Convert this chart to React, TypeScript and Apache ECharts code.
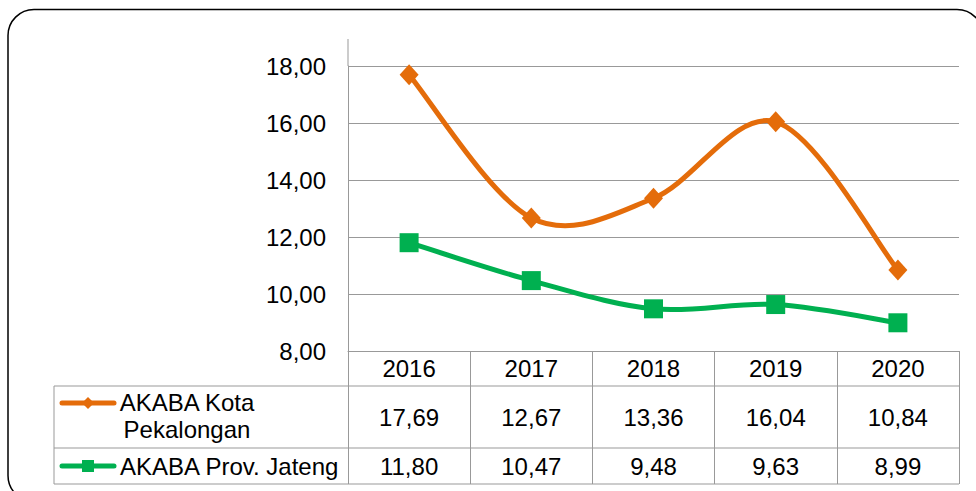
import React, { useEffect, useRef } from "react";
import * as echarts from "echarts";

const years = ["2016", "2017", "2018", "2019", "2020"];
const kotaName = "AKABA Kota Pekalongan";
const jatengName = "AKABA Prov. Jateng";
const kotaValues = [17.69, 12.67, 13.36, 16.04, 10.84];
const jatengValues = [11.8, 10.47, 9.48, 9.63, 8.99];
const yMin = 8;
const yMax = 18;
const yStep = 2;

const ORANGE = "#E46C0A";
const GREEN = "#00B050";
const GRID = "#999999";
const FONT = "'Liberation Sans', Arial, sans-serif";
const FS = 24;

const fmt = (v: number) => v.toFixed(2).replace(".", ",");

// Excel-like smooth curve (Catmull-Rom -> cubic Bezier)
const smoothSeries = (values: number[], color: string, name: string) => ({
  name,
  type: "custom",
  clip: false,
  z: 2,
  data: values.map((v, i) => [i, v]),
  renderItem: (params: any, api: any) => {
    if (params.dataIndex !== 0) return null;
    const pts = values.map((v, i) => api.coord([i, v]));
    let d = `M${pts[0][0]},${pts[0][1]}`;
    for (let i = 0; i < pts.length - 1; i++) {
      const p0 = pts[Math.max(i - 1, 0)];
      const p1 = pts[i];
      const p2 = pts[i + 1];
      const p3 = pts[Math.min(i + 2, pts.length - 1)];
      const c1x = p1[0] + (p2[0] - p0[0]) / 6;
      const c1y = p1[1] + (p2[1] - p0[1]) / 6;
      const c2x = p2[0] - (p3[0] - p1[0]) / 6;
      const c2y = p2[1] - (p3[1] - p1[1]) / 6;
      d += ` C${c1x},${c1y} ${c2x},${c2y} ${p2[0]},${p2[1]}`;
    }
    return {
      type: "path",
      shape: { pathData: d },
      style: { stroke: color, lineWidth: 5, fill: "none", lineJoin: "round" },
    };
  },
});

export default function App() {
  const ref = useRef<HTMLDivElement>(null);
  useEffect(() => {
    document.body.style.margin = "0";
    const chart = echarts.init(ref.current!, null, { renderer: "svg" });
    chart.setOption({
      animation: false,
      backgroundColor: "#ffffff",
      textStyle: { fontFamily: FONT },
      grid: { left: 348, right: 17, top: 66, bottom: 140 },
      xAxis: {
        type: "category",
        data: years,
        boundaryGap: true,
        axisLine: { show: true, lineStyle: { color: GRID, width: 1 } },
        axisTick: { show: true, length: 133, alignWithLabel: false, lineStyle: { color: GRID, width: 1 } },
        axisLabel: { color: "#000", fontSize: FS, fontFamily: FONT, margin: 5 },
        splitLine: { show: false },
      },
      yAxis: {
        type: "value",
        min: yMin,
        max: yMax,
        interval: yStep,
        axisLine: { show: true, lineStyle: { color: GRID, width: 1 } },
        axisTick: { show: false },
        axisLabel: { color: "#000", fontSize: FS, fontFamily: FONT, margin: 22, formatter: (v: number) => fmt(v) },
        splitLine: { show: true, lineStyle: { color: GRID, width: 1 } },
      },
      series: [
        smoothSeries(kotaValues, ORANGE, kotaName + " curve"),
        smoothSeries(jatengValues, GREEN, jatengName + " curve"),
        {
          name: kotaName,
          type: "line",
          data: kotaValues,
          z: 3,
          symbol: "diamond",
          symbolSize: [19, 21],
          lineStyle: { opacity: 0 },
          itemStyle: { color: ORANGE },
        },
        {
          name: jatengName,
          type: "line",
          data: jatengValues,
          z: 3,
          symbol: "rect",
          symbolSize: 19,
          lineStyle: { opacity: 0 },
          itemStyle: { color: GREEN },
        },
      ],
    });

    const xs = years.map((_, i) => chart.convertToPixel({ xAxisIndex: 0 }, i) as number);
    const tableLeft = 54;
    const tableRight = 959;
    const rowLines = [386, 448, 484];
    const row1Y = 417;
    const row2Y = 466;
    const txt = (text: string, x: number, y: number, align = "center") => ({
      type: "text",
      x,
      y,
      style: { text, fill: "#000", font: `${FS}px ${FONT}`, align, verticalAlign: "middle" },
    });
    const elements: any[] = [
      {
        type: "rect",
        shape: { x: 8, y: 9.5, width: 975, height: 492, r: 26 },
        style: { fill: "none", stroke: "#000", lineWidth: 1.5 },
      },
      { type: "line", shape: { x1: 348, y1: 39, x2: 348, y2: 66 }, style: { stroke: GRID, lineWidth: 1 } },
      ...rowLines.map((y) => ({
        type: "line",
        shape: { x1: tableLeft, y1: y, x2: tableRight, y2: y },
        style: { stroke: GRID, lineWidth: 1 },
      })),
      { type: "line", shape: { x1: tableLeft, y1: 386, x2: tableLeft, y2: 484 }, style: { stroke: GRID, lineWidth: 1 } },
      // legend keys
      { type: "line", shape: { x1: 62, y1: 403, x2: 114, y2: 403 }, style: { stroke: ORANGE, lineWidth: 5, lineCap: "round" } },
      { type: "polygon", shape: { points: [[88, 397], [94, 403], [88, 409], [82, 403]] }, style: { fill: ORANGE } },
      { type: "line", shape: { x1: 62, y1: 466, x2: 114, y2: 466 }, style: { stroke: GREEN, lineWidth: 5, lineCap: "round" } },
      { type: "rect", shape: { x: 82, y: 460, width: 12, height: 12 }, style: { fill: GREEN } },
      txt("AKABA Kota", 187, 402),
      txt("Pekalongan", 187, 429),
      txt(jatengName, 120, 466, "left"),
      ...kotaValues.map((v, i) => txt(fmt(v), xs[i], row1Y)),
      ...jatengValues.map((v, i) => txt(fmt(v), xs[i], row2Y)),
    ];
    chart.setOption({ graphic: { elements } });
    return () => chart.dispose();
  }, []);
  return <div ref={ref} style={{ width: 976, height: 491 }} />;
}
